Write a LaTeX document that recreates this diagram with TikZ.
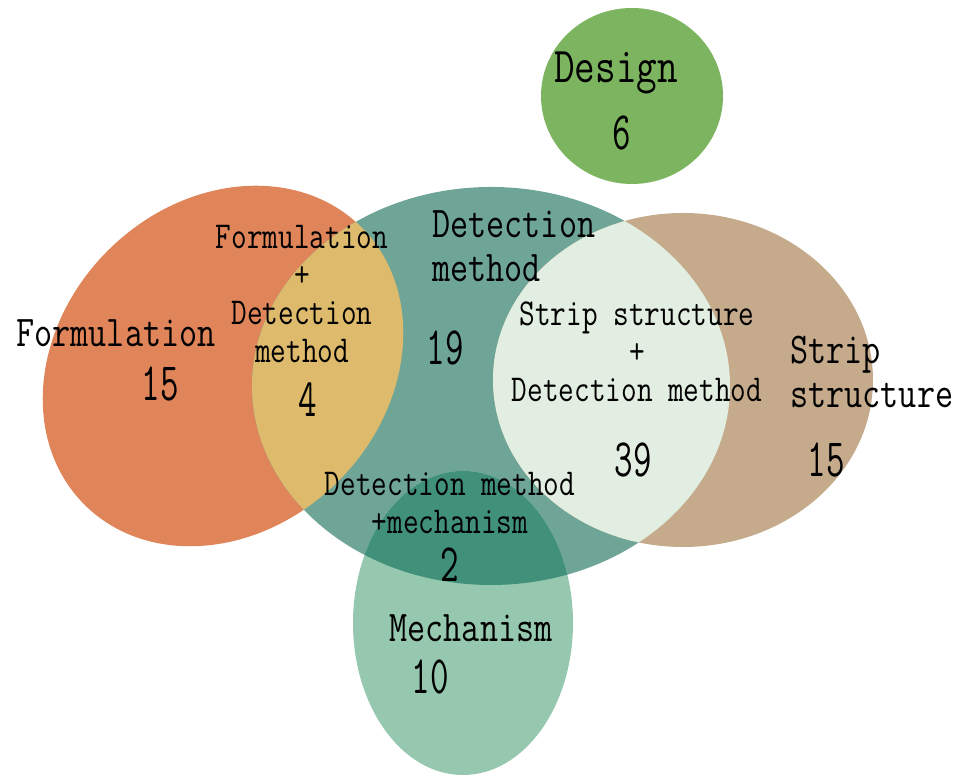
\documentclass[tikz,border=0pt]{standalone}
\usepackage{fontspec}
\usepackage{tikz}

\definecolor{formc}{HTML}{E0845A}
\definecolor{detc}{HTML}{6EA597}
\definecolor{stripc}{HTML}{C5AB8C}
\definecolor{mechc}{HTML}{96C8AF}
\definecolor{designc}{HTML}{7DB45F}
\definecolor{formdetc}{HTML}{DDBA6C}
\definecolor{stripdetc}{HTML}{E2EEE1}
\definecolor{mechdetc}{HTML}{41917A}

\newcommand{\formset}{(223,410) ellipse [x radius=196, y radius=163, rotate=45]}
\newcommand{\detset}{(491,390) ellipse [x radius=239, y radius=199]}
\newcommand{\stripset}{(683,396) ellipse [x radius=190, y radius=167]}
\newcommand{\mechset}{(463,153) ellipse [x radius=110, y radius=152]}

\begin{document}
\begin{tikzpicture}[x=0.02cm, y=0.02cm,
  biglbl/.style={font=\ttfamily\fontsize{20}{20}\selectfont, yscale=1.25, transform shape},
  midlbl/.style={font=\ttfamily\fontsize{17.3}{17.3}\selectfont, yscale=1.25, transform shape},
  numlbl/.style={font=\ttfamily\fontsize{20.5}{20.5}\selectfont, yscale=1.5, transform shape}]
\tikzstyle{every node}+=[inner sep=0pt]
\useasboundingbox (0,0) rectangle (961,776);
\fill [formc] \formset;
\fill [detc] \detset;
\fill [stripc] \stripset;
\fill [mechc] \mechset;
\fill [designc] (632,680) ellipse [x radius=91, y radius=88];
\begin{scope}
\clip \formset;
\fill [formdetc] \detset;
\end{scope}
\begin{scope}
\clip \stripset;
\fill [stripdetc] \detset;
\end{scope}
\begin{scope}
\clip \mechset;
\fill [mechdetc] \detset;
\end{scope}
\node [biglbl] (form) at (116,443) {Formulation};
\node [numlbl] (formn) at (160,392) {15};
\node [midlbl, align=center] (formdet) at (302,482) {Formulation\\+\\Detection\\method};
\node [numlbl] (formdetn) at (308,376) {4};
\node [biglbl, align=left, anchor=west] (det) at (432,530) {Detection\\method};
\node [numlbl] (detn) at (445,428) {19};
\node [midlbl, align=center] (stripdet) at (637,424) {Strip structure\\+\\Detection method};
\node [numlbl] (stripdetn) at (633,316) {39};
\node [biglbl, align=left, anchor=west] (strip) at (790,404) {Strip\\structure};
\node [numlbl] (stripn) at (826,316) {15};
\node [midlbl, align=center] (mechdet) at (450,273) {Detection method\\+mechanism};
\node [numlbl] (mechdetn) at (450,211) {2};
\node [biglbl] (mech) at (471,148) {Mechanism};
\node [numlbl] (mechn) at (430,99) {10};
\node [biglbl, font=\ttfamily\fontsize{22.8}{22.8}\selectfont] (design) at (616,703) {Design};
\node [numlbl] (designn) at (622,643) {6};
\end{tikzpicture}
\end{document}
